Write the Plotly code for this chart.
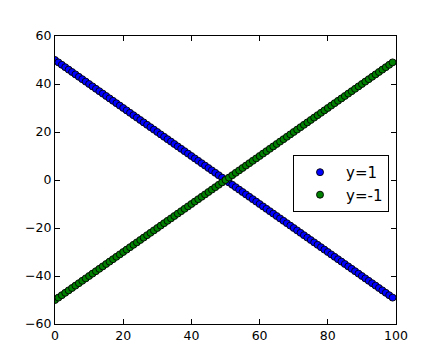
import plotly.graph_objects as go

x_vals = [0, 1, 2, 3, 4, 5, 6, 7, 8, 9, 10, 11, 12, 13, 14, 15, 16, 17, 18, 19,
          20, 21, 22, 23, 24, 25, 26, 27, 28, 29, 30, 31, 32, 33, 34, 35, 36, 37, 38, 39,
          40, 41, 42, 43, 44, 45, 46, 47, 48, 49, 50, 51, 52, 53, 54, 55, 56, 57, 58, 59,
          60, 61, 62, 63, 64, 65, 66, 67, 68, 69, 70, 71, 72, 73, 74, 75, 76, 77, 78, 79,
          80, 81, 82, 83, 84, 85, 86, 87, 88, 89, 90, 91, 92, 93, 94, 95, 96, 97, 98, 99]

y_pos = [50, 49, 48, 47, 46, 45, 44, 43, 42, 41, 40, 39, 38, 37, 36, 35, 34, 33, 32, 31,
         30, 29, 28, 27, 26, 25, 24, 23, 22, 21, 20, 19, 18, 17, 16, 15, 14, 13, 12, 11,
         10, 9, 8, 7, 6, 5, 4, 3, 2, 1, 0, -1, -2, -3, -4, -5, -6, -7, -8, -9,
         -10, -11, -12, -13, -14, -15, -16, -17, -18, -19, -20, -21, -22, -23, -24, -25, -26, -27, -28, -29,
         -30, -31, -32, -33, -34, -35, -36, -37, -38, -39, -40, -41, -42, -43, -44, -45, -46, -47, -48, -49]

y_neg = [-50, -49, -48, -47, -46, -45, -44, -43, -42, -41, -40, -39, -38, -37, -36, -35, -34, -33, -32, -31,
         -30, -29, -28, -27, -26, -25, -24, -23, -22, -21, -20, -19, -18, -17, -16, -15, -14, -13, -12, -11,
         -10, -9, -8, -7, -6, -5, -4, -3, -2, -1, 0, 1, 2, 3, 4, 5, 6, 7, 8, 9,
         10, 11, 12, 13, 14, 15, 16, 17, 18, 19, 20, 21, 22, 23, 24, 25, 26, 27, 28, 29,
         30, 31, 32, 33, 34, 35, 36, 37, 38, 39, 40, 41, 42, 43, 44, 45, 46, 47, 48, 49]

series_names = ["y=1", "y=-1"]
x_ticks = [0, 20, 40, 60, 80, 100]
y_ticks = [-60, -40, -20, 0, 20, 40, 60]

def fmt(v):
    return ("\u2212" + str(abs(v))) if v < 0 else str(v)

fig = go.Figure()
fig.add_trace(go.Scatter(x=x_vals, y=y_pos, mode="markers", name=series_names[0],
                         marker=dict(color="#0000ff", size=7, line=dict(color="black", width=0.9))))
fig.add_trace(go.Scatter(x=x_vals, y=y_neg, mode="markers", name=series_names[1],
                         marker=dict(color="#008000", size=7, line=dict(color="black", width=0.9))))

axis_common = dict(showgrid=False, zeroline=False, showline=True, linecolor="black", linewidth=1,
                   mirror="ticks", ticks="inside", ticklen=5, tickcolor="black", tickwidth=1,
                   tickfont=dict(family="DejaVu Sans", size=12.5, color="black"))

fig.update_xaxes(range=[0, 100], tickvals=x_ticks, ticktext=[fmt(v) for v in x_ticks], **axis_common)
fig.update_yaxes(range=[-60, 60], tickvals=y_ticks, ticktext=[fmt(v) for v in y_ticks], **axis_common)

fig.update_layout(
    width=440, height=360,
    margin=dict(l=55, r=44, t=36, b=36),
    paper_bgcolor="white", plot_bgcolor="white",
    showlegend=True,
    legend=dict(x=0.698, y=0.587, xanchor="left", yanchor="top",
                bordercolor="black", borderwidth=1, bgcolor="white",
                font=dict(family="DejaVu Sans", size=15, color="black"),
                tracegroupgap=0, itemwidth=42),
)

fig.write_html("out.html")
